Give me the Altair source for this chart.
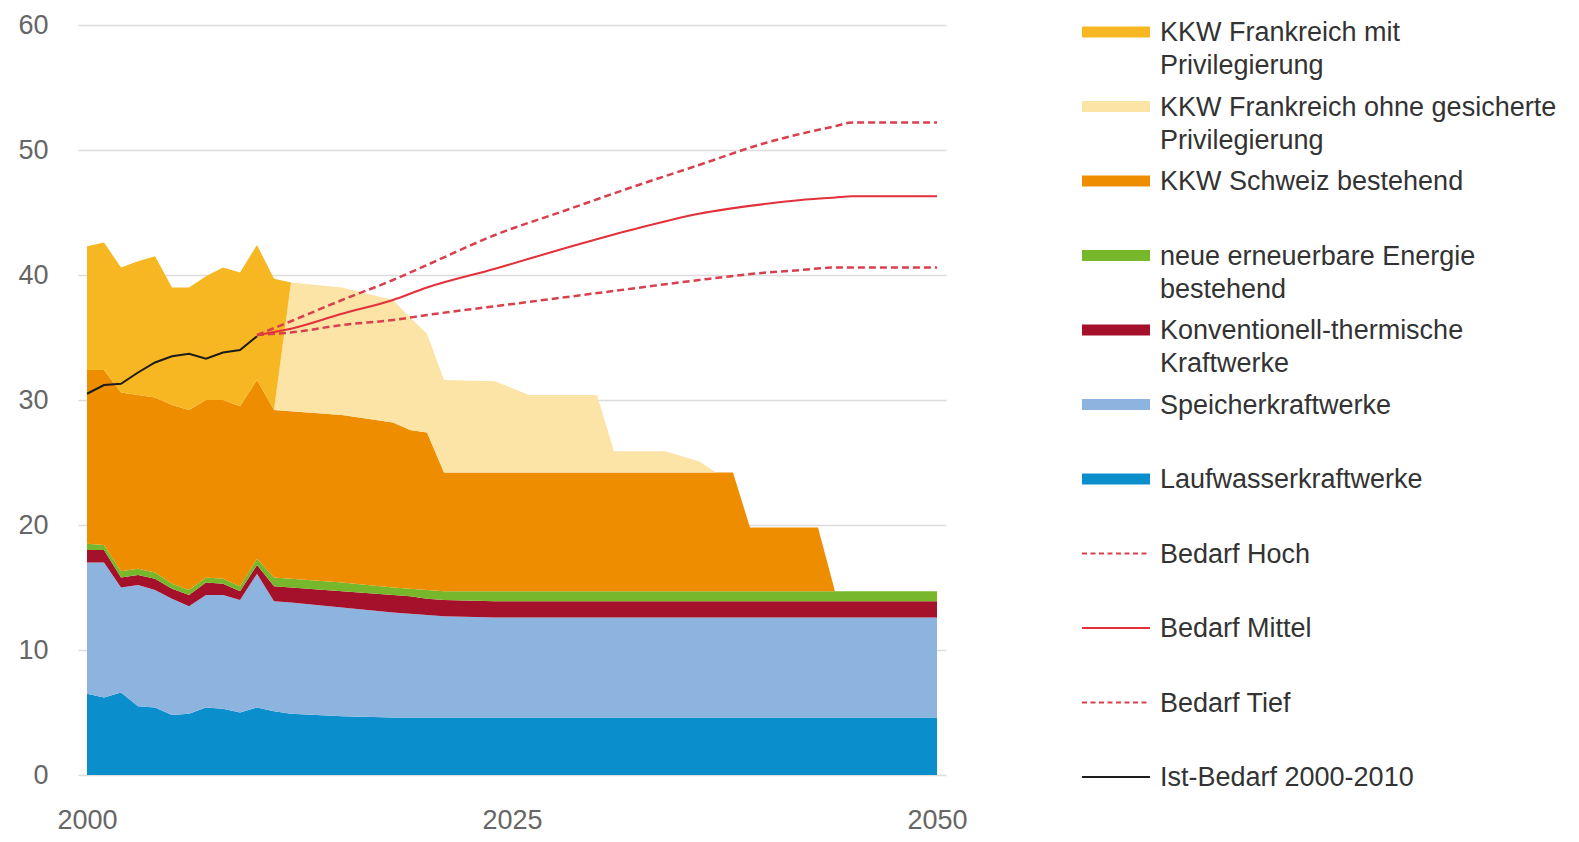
import altair as alt
import pandas as pd

FONT = "Liberation Sans, Arial, sans-serif"

# ---------------- data ----------------
years = [2000, 2001, 2002, 2003, 2004, 2005, 2006, 2007, 2008, 2009, 2010, 2011, 2012,
         2015, 2018, 2019, 2020, 2021,
         2024, 2026, 2030, 2031, 2034, 2036, 2037, 2038, 2039, 2043, 2044, 2050]

laufwasser = [6.5, 6.2, 6.6, 5.5, 5.4, 4.8, 4.9, 5.4, 5.3, 5.0, 5.4, 5.1, 4.9,
              4.7, 4.6, 4.6, 4.6, 4.6,
              4.6, 4.6, 4.6, 4.6, 4.6, 4.6, 4.6, 4.6, 4.6, 4.6, 4.6, 4.6]
speicher = [10.5, 10.8, 8.4, 9.7, 9.4, 9.3, 8.6, 9.0, 9.1, 9.0, 10.7, 8.8, 8.9,
            8.7, 8.4, 8.3, 8.2, 8.1,
            8.0, 8.0, 8.0, 8.0, 8.0, 8.0, 8.0, 8.0, 8.0, 8.0, 8.0, 8.0]
thermisch = [1.0, 1.0, 0.8, 0.8, 0.9, 0.8, 0.9, 1.0, 0.9, 0.7, 0.7, 1.2, 1.2,
             1.3, 1.4, 1.4, 1.3, 1.3,
             1.3, 1.3, 1.3, 1.3, 1.3, 1.3, 1.3, 1.3, 1.3, 1.3, 1.3, 1.3]
erneuerbar = [0.5, 0.4, 0.5, 0.5, 0.5, 0.4, 0.4, 0.4, 0.4, 0.4, 0.5, 0.7, 0.7,
              0.7, 0.6, 0.6, 0.7, 0.7,
              0.8, 0.8, 0.8, 0.8, 0.8, 0.8, 0.8, 0.8, 0.8, 0.8, 0.8, 0.8]
kkw_schweiz = [13.9, 14.0, 14.3, 13.9, 14.0, 14.3, 14.4, 14.2, 14.3, 14.4, 14.3, 13.4, 13.4,
               13.4, 13.2, 12.7, 12.6, 9.5,
               9.5, 9.5, 9.5, 9.5, 9.5, 9.5, 9.5, 9.5, 5.1, 5.1, 0.0, 0.0]
kkw_fr_ohne = [0, 0, 0, 0, 0, 0, 0, 0, 0, 0, 0, 0, 10.3,
               10.2, 9.8, 9.0, 7.9, 7.4,
               7.3, 6.2, 6.2, 1.7, 1.7, 0.9, 0, 0, 0, 0, 0, 0]
kkw_fr_mit = [9.9, 10.2, 10.0, 10.7, 11.3, 9.4, 9.8, 9.9, 10.6, 10.7, 10.8, 10.5, 0,
              0, 0, 0, 0, 0,
              0, 0, 0, 0, 0, 0, 0, 0, 0, 0, 0, 0]

series_names = ["Laufwasserkraftwerke", "Speicherkraftwerke",
                "Konventionell-thermische Kraftwerke", "neue erneuerbare Energie bestehend",
                "KKW Schweiz bestehend", "KKW Frankreich ohne gesicherte Privilegierung",
                "KKW Frankreich mit Privilegierung"]
series_colors = ["#0A8ECC", "#8DB4DF", "#A5102B", "#77B72B", "#EF8D00", "#FCE3A6", "#F6B722"]
series_values = [laufwasser, speicher, thermisch, erneuerbar, kkw_schweiz, kkw_fr_ohne, kkw_fr_mit]

bedarf_years = [2010, 2012, 2015, 2018, 2020, 2024, 2028, 2032, 2036, 2040, 2042, 2044, 2045, 2050]
bedarf_hoch = [35.2, 36.3, 38.0, 39.6, 40.8, 43.2, 45.1, 47.0, 48.8, 50.6, 51.3, 51.9, 52.2, 52.2]
bedarf_mittel = [35.2, 35.7, 36.9, 38.0, 39.0, 40.5, 42.1, 43.6, 44.9, 45.7, 46.0, 46.2, 46.3, 46.3]
bedarf_tief = [35.2, 35.4, 36.0, 36.4, 36.8, 37.5, 38.2, 38.9, 39.6, 40.2, 40.4, 40.6, 40.6, 40.6]

ist_years = [2000, 2001, 2002, 2003, 2004, 2005, 2006, 2007, 2008, 2009, 2010]
ist_bedarf = [30.5, 31.2, 31.3, 32.2, 33.0, 33.5, 33.7, 33.3, 33.8, 34.0, 35.1]

x_ticks = [2000, 2025, 2050]
y_ticks = [0, 10, 20, 30, 40, 50, 60]

legend_labels = ["KKW Frankreich mit|Privilegierung",
                 "KKW Frankreich ohne gesicherte|Privilegierung",
                 "KKW Schweiz bestehend",
                 "neue erneuerbare Energie|bestehend",
                 "Konventionell-thermische|Kraftwerke",
                 "Speicherkraftwerke",
                 "Laufwasserkraftwerke",
                 "Bedarf Hoch",
                 "Bedarf Mittel",
                 "Bedarf Tief",
                 "Ist-Bedarf 2000-2010"]
legend_colors = ["#F6B722", "#FCE3A6", "#EF8D00", "#77B72B", "#A5102B", "#8DB4DF", "#0A8ECC",
                 "#D8404E", "#E2313B", "#D8404E", "#1c1c1c"]
legend_widths = [11, 11, 11, 11, 11, 11, 11, 2, 2, 2, 2]
legend_dashed = [False] * 7 + [True, False, True, False]

HOCH_COLOR = "#D8404E"
MITTEL_COLOR = "#E2313B"
TIEF_COLOR = "#D8404E"
IST_COLOR = "#1c1c1c"

# ---------------- tables ----------------
rows = []
for i, (name, vals) in enumerate(zip(series_names, series_values)):
    for yr, v in zip(years, vals):
        rows.append({"year": yr, "value": v, "series": name, "order": i})
df_area = pd.DataFrame(rows)

df_hoch = pd.DataFrame({"year": bedarf_years, "value": bedarf_hoch})
df_mittel = pd.DataFrame({"year": bedarf_years, "value": bedarf_mittel})
df_tief = pd.DataFrame({"year": bedarf_years, "value": bedarf_tief})
df_ist = pd.DataFrame({"year": ist_years, "value": ist_bedarf})

df_leg = pd.DataFrame({
    "row": list(range(len(legend_labels))),
    "label": legend_labels,
    "color": legend_colors,
    "sw": legend_widths,
    "dashed": legend_dashed,
})

# ---------------- scales ----------------
x_scale = alt.Scale(domain=[1999.47, 2050.53], nice=False, zero=False)
y_scale = alt.Scale(domain=[0, 60], nice=False, zero=True)
row_scale = alt.Scale(domain=[-0.094, 9.973], reverse=True, nice=False, zero=False)

x_axis = alt.Axis(values=x_ticks, format="d", title=None, grid=False, domain=False,
                  ticks=False, tickSize=0, labelPadding=32, labelFontSize=27,
                  labelColor="#666666", labelFont=FONT, labelFlush=False)
y_axis = alt.Axis(values=y_ticks, title=None, grid=True, gridColor="#dcdcdc", gridWidth=1.5,
                  domain=False, ticks=False, tickSize=0, labelPadding=30, labelFontSize=27,
                  labelColor="#666666", labelFont=FONT)

area = alt.Chart(df_area).mark_area(interpolate="linear").encode(
    x=alt.X("year:Q", scale=x_scale, axis=x_axis),
    y=alt.Y("value:Q", stack="zero", scale=y_scale, axis=y_axis),
    color=alt.Color("series:N", scale=alt.Scale(domain=series_names, range=series_colors),
                    legend=None),
    order=alt.Order("order:Q", sort="ascending"),
)


def demand_line(df, color, dash, width, interp):
    kw = dict(color=color, strokeWidth=width, interpolate=interp)
    if dash:
        kw["strokeDash"] = dash
    return alt.Chart(df).mark_line(**kw).encode(
        x=alt.X("year:Q", scale=x_scale, axis=x_axis),
        y=alt.Y("value:Q", scale=y_scale, axis=None),
    )


hoch = demand_line(df_hoch, HOCH_COLOR, [7, 4], 2.5, "monotone")
mittel = demand_line(df_mittel, MITTEL_COLOR, None, 2, "monotone")
tief = demand_line(df_tief, TIEF_COLOR, [7, 4], 2.5, "monotone")
ist = demand_line(df_ist, IST_COLOR, None, 2, "linear")

leg_base = alt.Chart(df_leg)
leg_solid = leg_base.transform_filter("!datum.dashed").mark_rule(strokeCap="butt").encode(
    x=alt.value(1004), x2=alt.value(1072),
    y=alt.Y("row:Q", scale=row_scale, axis=None),
    stroke=alt.Stroke("color:N", scale=None),
    strokeWidth=alt.StrokeWidth("sw:Q", scale=None),
)
leg_dash = leg_base.transform_filter("datum.dashed").mark_rule(
    strokeCap="butt", strokeDash=[5, 3.5]).encode(
    x=alt.value(1004), x2=alt.value(1072),
    y=alt.Y("row:Q", scale=row_scale, axis=None),
    stroke=alt.Stroke("color:N", scale=None),
    strokeWidth=alt.StrokeWidth("sw:Q", scale=None),
)
leg_text = leg_base.mark_text(align="left", baseline="alphabetic", dy=9, fontSize=27,
                              font=FONT, lineBreak="|", lineHeight=33,
                              color="#333333").encode(
    x=alt.value(1082),
    y=alt.Y("row:Q", scale=row_scale, axis=None),
    text="label:N",
)

chart = alt.layer(area, tief, mittel, hoch, ist, leg_solid, leg_dash, leg_text).resolve_scale(
    y="independent", color="independent", stroke="independent", strokeWidth="independent"
).properties(
    width=868, height=750,
    padding={"left": 70, "top": 17, "right": 612, "bottom": 64},
    autosize=alt.AutoSizeParams(type="none"),
    background="white",
).configure_view(stroke=None)

chart.save("out.html", embed_options={"renderer": "svg", "actions": False})
